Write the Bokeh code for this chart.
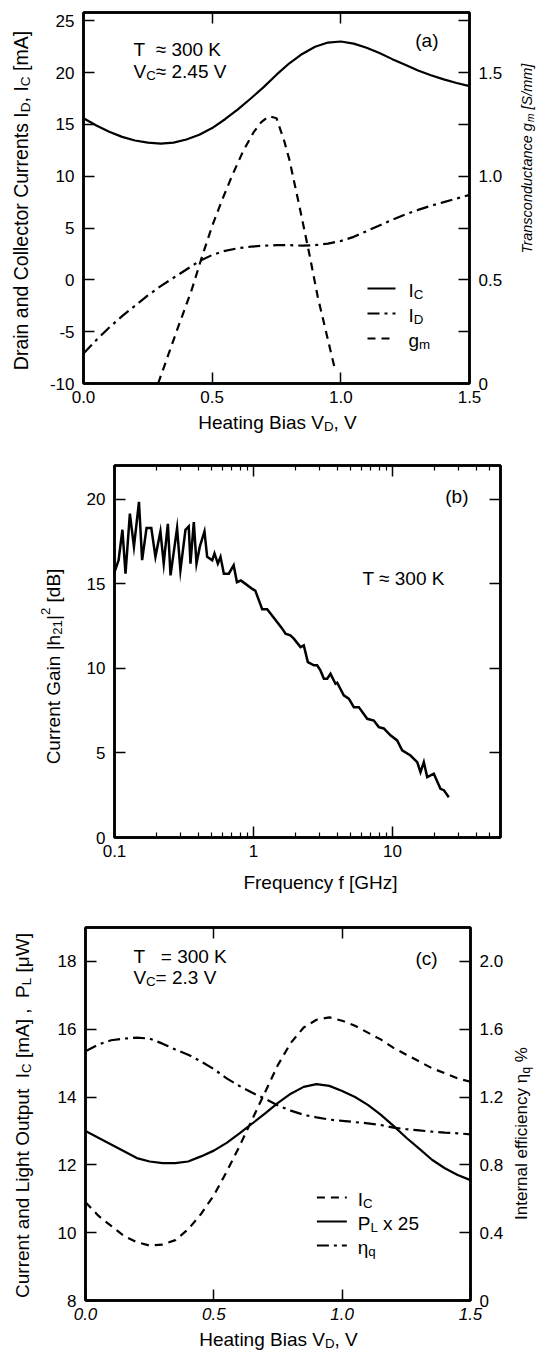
import math
from bokeh.plotting import figure
from bokeh.models import Range1d, LinearAxis, LogAxis, FixedTicker, Label
from bokeh.layouts import column, row
from bokeh.embed import file_html
from bokeh.resources import INLINE

# ---------------- data: panel (a) ----------------
bias_a = [0.0, 0.05, 0.1, 0.15, 0.2, 0.25, 0.3, 0.35, 0.4, 0.45, 0.5, 0.55, 0.6, 0.65, 0.7, 0.75,
          0.8, 0.85, 0.9, 0.95, 1.0, 1.05, 1.1, 1.15, 1.2, 1.25, 1.3, 1.35, 1.4, 1.45, 1.5]
ic_a = [15.6, 14.9, 14.3, 13.8, 13.45, 13.25, 13.15, 13.25, 13.55, 14.0, 14.65, 15.5, 16.45, 17.5,
        18.6, 19.8, 20.9, 21.8, 22.5, 22.9, 23.0, 22.8, 22.4, 21.9, 21.3, 20.75, 20.2, 19.75, 19.35,
        19.0, 18.7]
id_a = [-7.1, -5.8, -4.6, -3.5, -2.5, -1.5, -0.6, 0.2, 1.0, 1.8, 2.4, 2.8, 3.05, 3.2, 3.3, 3.35,
        3.35, 3.3, 3.35, 3.5, 3.75, 4.15, 4.7, 5.25, 5.8, 6.3, 6.75, 7.15, 7.5, 7.85, 8.2]
gm_bias = [0.29, 0.33, 0.37, 0.42, 0.46, 0.50, 0.54, 0.58, 0.62, 0.66, 0.69, 0.72, 0.75, 0.78,
           0.80, 0.84, 0.88, 0.91, 0.95, 0.975]
gm_a = [0.0, 0.14, 0.28, 0.45, 0.61, 0.76, 0.89, 1.01, 1.12, 1.21, 1.26, 1.29, 1.28, 1.17,
        1.08, 0.85, 0.61, 0.42, 0.21, 0.08]
ticks_a_x = [0.0, 0.5, 1.0, 1.5]
labels_a_x = ["0.0", "0.5", "1.0", "1.5"]
ticks_a_y = [-10, -5, 0, 5, 10, 15, 20, 25]
labels_a_y = ["-10", "-5", "0", "5", "10", "15", "20", "25"]
ticks_a_g = [0.0, 0.25, 0.5, 0.75, 1.0, 1.25, 1.5, 1.75]
labels_a_g = ["0", "", "0.5", "", "1.0", "", "1.5", ""]

# ---------------- data: panel (b) ----------------
freq_b = [0.100, 0.107, 0.114, 0.120, 0.129, 0.138, 0.150, 0.158, 0.170, 0.184, 0.197, 0.214,
          0.226, 0.242, 0.253, 0.282, 0.298, 0.324, 0.342, 0.352, 0.372, 0.389, 0.411, 0.444,
          0.464, 0.505, 0.524, 0.554, 0.579, 0.612, 0.664, 0.72, 0.76, 0.81, 0.876, 0.98, 1.03,
          1.155, 1.254, 1.40, 1.61, 1.70, 1.84, 1.95, 2.18, 2.30, 2.46, 2.72, 2.87, 3.03, 3.21,
          3.39, 3.58, 3.89, 4.00, 4.46, 4.85, 5.27, 5.72, 6.58, 7.34, 7.97, 8.66, 9.67, 10.8,
          11.74, 13.47, 15.06, 15.9, 16.8, 17.77, 19.82, 22.14, 23.4, 25.4]
gain_b = [15.7, 16.4, 18.2, 15.6, 19.15, 17.2, 19.85, 16.4, 18.3, 18.3, 16.6, 18.1, 16.2, 18.55,
          15.5, 18.3, 15.8, 18.2, 18.4, 16.2, 18.65, 16.2, 17.2, 18.1, 16.6, 16.4, 16.8, 16.2,
          16.6, 15.6, 15.6, 16.1, 15.1, 15.2, 15.0, 14.7, 14.6, 13.5, 13.5, 13.0, 12.35, 12.05,
          11.95, 11.76, 11.26, 11.36, 10.37, 10.18, 10.18, 9.88, 9.39, 9.39, 9.68, 9.09, 9.15,
          8.41, 8.21, 7.71, 7.71, 7.02, 6.92, 6.53, 6.45, 6.04, 5.74, 5.15, 4.85, 4.46, 3.86,
          4.46, 3.57, 3.77, 2.88, 2.8, 2.38]
ticks_b_x = [0.1, 1, 10]
labels_b_x = ["0.1", "1", "10"]
minor_b_x = [0.2, 0.3, 0.4, 0.5, 0.6, 0.7, 0.8, 0.9, 2, 3, 4, 5, 6, 7, 8, 9, 20, 30, 40, 50]
ticks_b_y = [0, 5, 10, 15, 20]
labels_b_y = ["0", "5", "10", "15", "20"]

# ---------------- data: panel (c) ----------------
bias_c = [0.0, 0.05, 0.1, 0.15, 0.2, 0.25, 0.3, 0.35, 0.4, 0.45, 0.5, 0.55, 0.6, 0.65, 0.7, 0.75,
          0.8, 0.85, 0.9, 0.95, 1.0, 1.05, 1.1, 1.15, 1.2, 1.25, 1.3, 1.35, 1.4, 1.45, 1.5]
ic_c = [10.9, 10.5, 10.2, 9.9, 9.72, 9.62, 9.65, 9.78, 10.1, 10.55, 11.1, 11.8, 12.55, 13.35,
        14.15, 14.95, 15.6, 16.05, 16.28, 16.35, 16.25, 16.1, 15.9, 15.7, 15.45, 15.25, 15.05,
        14.85, 14.7, 14.55, 14.45]
pl_c = [13.0, 12.8, 12.6, 12.4, 12.2, 12.1, 12.05, 12.05, 12.1, 12.25, 12.42, 12.65, 12.93, 13.22,
        13.52, 13.83, 14.1, 14.3, 14.38, 14.33, 14.18, 14.0, 13.77, 13.48, 13.15, 12.8, 12.48,
        12.15, 11.9, 11.7, 11.55]
eta_c = [1.47, 1.51, 1.535, 1.545, 1.55, 1.545, 1.515, 1.48, 1.45, 1.41, 1.365, 1.31, 1.265,
         1.225, 1.19, 1.15, 1.12, 1.095, 1.08, 1.067, 1.06, 1.052, 1.045, 1.035, 1.02, 1.01,
         1.003, 0.996, 0.99, 0.986, 0.98]
ticks_c_x = [0.0, 0.5, 1.0, 1.5]
labels_c_x = ["0.0", "0.5", "1.0", "1.5"]
ticks_c_y = [8, 10, 12, 14, 16, 18]
labels_c_y = ["8", "10", "12", "14", "16", "18"]
ticks_c_e = [0.0, 0.4, 0.8, 1.2, 1.6, 2.0]
labels_c_e = ["0", "0.4", "0.8", "1.2", "1.6", "2.0"]

FONT = "Liberation Sans"
TICK_SIZE = "17px"

# Arial / Liberation Sans advance widths (1/1000 em), to lay out texts with sub/superscripts
_W = {' ': 278, ',': 278, '.': 278, '[': 278, ']': 278, '(': 333, ')': 333, '/': 278, '|': 260,
      '=': 584, '≈': 584, '-': 333, '%': 889, 'η': 556, 'μ': 576, 'x': 500}
for ch in "0123456789":
    _W[ch] = 556
_W.update(dict(zip("abcdefghijklmnopqrstuvwyz",
                   [556, 556, 500, 556, 556, 278, 556, 556, 222, 222, 500, 222, 833, 556, 556, 556,
                    556, 333, 500, 278, 556, 500, 722, 500, 500])))
_W.update(dict(zip("ABCDEFGHIJKLMNOPQRSTUVWXYZ",
                   [667, 667, 722, 722, 667, 611, 778, 722, 278, 500, 667, 556, 833, 722, 778, 667,
                    778, 722, 667, 611, 722, 667, 944, 667, 667, 611])))


def text_w(t, size):
    return sum(_W.get(c, 556) for c in t) * size / 1000.0


class Geo:
    """Maps page pixel coordinates to a figure's data coordinates."""
    def __init__(self, p, ox, oy, l, r, t, b, x0, x1, y0, y1, xlog=False):
        self.p, self.ox, self.oy = p, ox, oy
        self.l, self.r, self.t, self.b = l, r, t, b
        self.x0, self.x1, self.y0, self.y1, self.xlog = x0, x1, y0, y1, xlog

    def X(self, px):
        f = (px - self.ox - self.l) / (self.r - self.l)
        if self.xlog:
            a, b = math.log10(self.x0), math.log10(self.x1)
            return 10 ** (a + f * (b - a))
        return self.x0 + f * (self.x1 - self.x0)

    def Y(self, py):
        f = (py - self.oy - self.t) / (self.b - self.t)
        return self.y1 - f * (self.y1 - self.y0)


def rich(g, px, py, segs, size, rot=False, align="center", style="normal"):
    """Texts with sub/superscripts, laid out piece by piece; (px, py) is on the baseline."""
    sizes = [size * 0.7 if k != "n" else size for _, k in segs]
    widths = [text_w(t, s) for (t, _), s in zip(segs, sizes)]
    W = sum(widths)
    along = {"center": -W / 2, "left": 0, "right": -W}[align]
    lift = 0.27 * size          # the renderer draws the baseline a little low
    for (t, k), s, w in zip(segs, sizes, widths):
        lead = len(t) - len(t.lstrip(" "))
        a0 = along + text_w(" " * lead, s)
        t = t.strip(" ")
        off = lift + {"n": 0.0, "sub": -0.24 * size, "sup": 0.42 * size}[k]
        if rot:
            X, Y = px - off, py - a0
        else:
            X, Y = px + a0, py - off
        g.p.add_layout(Label(x=g.X(X), y=g.Y(Y), text=t, angle=math.pi / 2 if rot else 0,
                             text_align="left", text_baseline="alphabetic", text_font=FONT,
                             text_font_size=f"{s:.1f}px", text_font_style=style,
                             text_color="black"))
        along += w


def style_axis(ax, ticks, labels=None, minor=None, tick_in=11, style="normal", standoff=8):
    ax.ticker = FixedTicker(ticks=ticks, minor_ticks=minor or [])
    ax.major_tick_in = tick_in
    ax.major_tick_out = 0
    ax.minor_tick_in = 5 if minor else 0
    ax.minor_tick_out = 0
    ax.axis_line_width = 2.5
    ax.axis_line_color = "black"
    ax.major_tick_line_width = 1.5
    ax.minor_tick_line_width = 1.2
    ax.major_tick_line_color = "black"
    ax.minor_tick_line_color = "black"
    if labels is None:
        ax.major_label_overrides = {t: "" for t in ticks}
        ax.major_label_text_font_size = "0px"
        ax.major_label_standoff = 0
    else:
        ax.major_label_overrides = {t: l for t, l in zip(ticks, labels)}
        ax.major_label_text_font_size = TICK_SIZE
        ax.major_label_standoff = standoff
        ax.major_label_text_font = FONT
        ax.major_label_text_font_style = style
        ax.major_label_text_color = "black"


def main_fig(w, h, l, r, t, b, xr, yr, xtype="linear"):
    p = figure(width=w, height=h, x_range=xr, y_range=yr, x_axis_type=xtype, title=None,
               output_backend="svg", toolbar_location=None,
               min_border_left=l, min_border_right=w - r, min_border_top=t,
               min_border_bottom=h - b)
    p.xgrid.visible = False
    p.ygrid.visible = False
    p.outline_line_color = "black"
    p.outline_line_width = 2.5
    p.background_fill_color = "white"
    p.border_fill_color = "white"
    return p


def helper(ox, oy, w, h, t=0, b=None):
    """A blank strip that holds axis titles outside a panel frame.
    Its frame spans the full width and rows t..b (matching the neighbouring panel frame);
    its ranges are page pixel coordinates so texts can be placed directly."""
    b = h if b is None else b
    f = figure(width=w, height=h, x_range=Range1d(ox, ox + w), y_range=Range1d(oy + b, oy + t),
               title=None, output_backend="svg", toolbar_location=None, x_axis_location=None,
               y_axis_location=None, min_border_left=0, min_border_right=0, min_border_top=t,
               min_border_bottom=h - b)
    f.xgrid.visible = False
    f.ygrid.visible = False
    f.outline_line_color = None
    f.background_fill_color = "white"
    f.border_fill_color = "white"
    return f, Geo(f, 0, 0, ox, ox + w, oy + t, oy + b, ox, ox + w, oy + b, oy + t)


LW = 2.2
DASH = "8 6"
DASHDOT = "12 5 3 5"

# ====================== panel (a) ======================
AX, AY, AW, AH, AT, AB = 40, 0, 468, 410, 12, 383
pa = main_fig(AW, AH, 43, 429, AT, AB, Range1d(0, 1.5), Range1d(-10, 25.8))
pa.extra_y_ranges = {"g": Range1d(0, 1.79)}
style_axis(pa.xaxis[0], ticks_a_x, labels_a_x, standoff=7)
style_axis(pa.yaxis[0], ticks_a_y, labels_a_y, standoff=9)
top_a = LinearAxis()
style_axis(top_a, [0.5, 1.0])
pa.add_layout(top_a, "above")
right_a = LinearAxis(y_range_name="g")
style_axis(right_a, ticks_a_g, labels_a_g, standoff=9)
pa.add_layout(right_a, "right")

pa.line(bias_a, ic_a, line_color="black", line_width=LW)
pa.line(bias_a, id_a, line_color="black", line_width=LW, line_dash=DASHDOT)
pa.line(gm_bias, gm_a, line_color="black", line_width=LW, line_dash=DASH, y_range_name="g")

ga = Geo(pa, AX, AY, 43, 429, AT, AB, 0, 1.5, -10, 25.8)
rich(ga, 438, 45, [("(a)", "n")], 19, align="right")
rich(ga, 133, 54, [("T", "n"), ("  ≈ 300 K", "n")], 19, align="left")
rich(ga, 133, 76, [("V", "n"), ("C", "sub"), ("≈ 2.45 V", "n")], 19, align="left")
leg_a = [("I", "C", None), ("I", "D", DASHDOT), ("g", "m", DASH)]
for i, (m, s, dash) in enumerate(leg_a):
    yy = 288 + 25 * i
    kw = dict(line_dash=dash) if dash else {}
    pa.line([ga.X(367), ga.X(395)], [ga.Y(yy), ga.Y(yy)], line_color="black", line_width=LW, **kw)
    rich(ga, 408, yy + 7, [(m, "n"), (s, "sub")], 19, align="left")

la_l, gl = helper(0, AY, 40, AH, AT, AB)
rich(gl, 26, 200, [("Drain and Collector Currents I", "n"), ("D", "sub"), (", I", "n"),
                   ("C", "sub"), (" [mA]", "n")], 19.5, rot=True)
la_r, gr = helper(508, AY, 28, AH, AT, AB)
rich(gr, 530, 158, [("Transconductance g", "n"), ("m", "sub"), (" [S/mm]", "n")], 14.5,
     rot=True, style="italic")
la_b, gbm = helper(0, 410, 536, 28)
rich(gbm, 277, 427, [("Heating Bias V", "n"), ("D", "sub"), (", V", "n")], 19)
panel_a = column(row(la_l, pa, la_r, spacing=0), la_b, spacing=0)

# ====================== panel (b) ======================
BX, BY, BW, BH, BT, BB = 70, 438, 466, 427, 27, 399
xmax_b = 0.1 * 10 ** ((430 - 44) / 139.0)
pb = main_fig(BW, BH, 44, 430, BT, BB, Range1d(0.1, xmax_b), Range1d(0, 22), xtype="log")
style_axis(pb.xaxis[0], ticks_b_x, labels_b_x, minor=minor_b_x, standoff=7)
style_axis(pb.yaxis[0], ticks_b_y, labels_b_y, standoff=9)
top_b = LogAxis()
style_axis(top_b, ticks_b_x, None, minor=minor_b_x)
pb.add_layout(top_b, "above")
right_b = LinearAxis()
style_axis(right_b, ticks_b_y, None)
pb.add_layout(right_b, "right")

pb.line(freq_b, gain_b, line_color="black", line_width=2.5, line_join="miter")

gb = Geo(pb, BX, BY, 44, 430, BT, BB, 0.1, xmax_b, 0, 22, xlog=True)
rich(gb, 468, 501, [("(b)", "n")], 19, align="right")
rich(gb, 362, 583, [("T ≈ 300 K", "n")], 19, align="left")

lb_l, gbl = helper(0, BY, 70, BH, BT, BB)
rich(gbl, 58, 666, [("Current Gain |h", "n"), ("21", "sub"), ("|", "n"), ("2", "sup"),
                    (" [dB]", "n")], 19, rot=True)
lb_b, gbb = helper(0, 865, 536, 30)
rich(gbb, 320, 887, [("Frequency f [GHz]", "n")], 19)
panel_b = column(row(lb_l, pb, spacing=0), lb_b, spacing=0)

# ====================== panel (c) ======================
CX, CY, CW, CH, CT, CB = 40, 895, 466, 432, 32, 405
pc = main_fig(CW, CH, 45, 431, CT, CB, Range1d(0, 1.5), Range1d(8, 19))
pc.extra_y_ranges = {"e": Range1d(0, 2.2)}
style_axis(pc.xaxis[0], ticks_c_x, labels_c_x, style="italic", standoff=7)
style_axis(pc.yaxis[0], ticks_c_y, labels_c_y, standoff=9)
top_c = LinearAxis()
style_axis(top_c, [0.5, 1.0])
pc.add_layout(top_c, "above")
right_c = LinearAxis(y_range_name="e")
style_axis(right_c, ticks_c_e, labels_c_e, standoff=9)
pc.add_layout(right_c, "right")

pc.line(bias_c, ic_c, line_color="black", line_width=LW, line_dash=DASH)
pc.line(bias_c, pl_c, line_color="black", line_width=LW)
pc.line(bias_c, eta_c, line_color="black", line_width=LW, line_dash=DASHDOT, y_range_name="e")

gc = Geo(pc, CX, CY, 45, 431, CT, CB, 0, 1.5, 8, 19)
rich(gc, 438, 963, [("(c)", "n")], 19, align="right")
rich(gc, 133, 961, [("T", "n"), ("   = 300 K", "n")], 19, align="left")
rich(gc, 133, 982, [("V", "n"), ("C", "sub"), ("= 2.3 V", "n")], 19, align="left")
leg_c = [("I", "C", DASH), ("P", "L", None), ("η", "q", DASHDOT)]
for i, (m, s, dash) in enumerate(leg_c):
    yy = 1197 + 24 * i
    kw = dict(line_dash=dash) if dash else {}
    pc.line([gc.X(317), gc.X(347)], [gc.Y(yy), gc.Y(yy)], line_color="black", line_width=LW, **kw)
    segs = [(m, "n"), (s, "sub")] + ([(" x 25", "n")] if m == "P" else [])
    rich(gc, 358, yy + 7, segs, 19, align="left")

lc_l, gcl = helper(0, CY, 40, CH, CT, CB)
rich(gcl, 27, 1115, [("Current and Light Output", "n"), ("  I", "n"), ("C", "sub"),
                     (" [mA] ,", "n"), ("  P", "n"), ("L", "sub"), (" [μW]", "n")], 19, rot=True)
lc_r, gcr = helper(506, CY, 30, CH, CT, CB)
rich(gcr, 526, 1133, [("Internal efficiency η", "n"), ("q", "sub"), (" %", "n")], 17, rot=True)
lc_b, gcb = helper(0, 1327, 536, 23)
rich(gcb, 278, 1344, [("Heating Bias V", "n"), ("D", "sub"), (", V", "n")], 19)
panel_c = column(row(lc_l, pc, lc_r, spacing=0), lc_b, spacing=0)

layout = column(panel_a, panel_b, panel_c, spacing=0)
open("out.html", "w").write(file_html(layout, INLINE))
